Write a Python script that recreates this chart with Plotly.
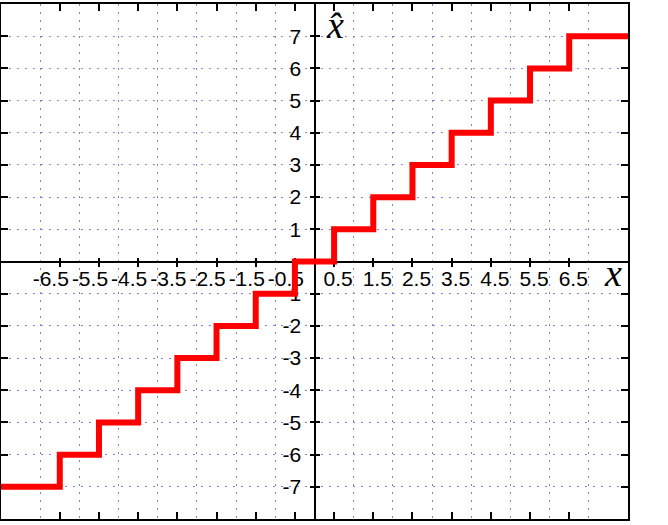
import plotly.graph_objects as go

# Staircase (quantizer) data
step_x = [-8, -6.5, -5.5, -4.5, -3.5, -2.5, -1.5, -0.5, 0.5, 1.5, 2.5, 3.5, 4.5, 5.5, 6.5, 8]
step_y = [-7, -6, -5, -4, -3, -2, -1, 0, 1, 2, 3, 4, 5, 6, 7, 7]

x_tick_vals = [-6.5, -5.5, -4.5, -3.5, -2.5, -1.5, -0.5, 0.5, 1.5, 2.5, 3.5, 4.5, 5.5, 6.5]
x_neg_vals = [-6.5, -5.5, -4.5, -3.5, -2.5, -1.5, -0.5]
x_neg_text = ["-6.5", "-5.5", "-4.5", "-3.5", "-2.5", "-1.5", "-0.5"]
x_pos_vals = [0.5, 1.5, 2.5, 3.5, 4.5, 5.5, 6.5]
x_pos_text = ["0.5", "1.5", "2.5", "3.5", "4.5", "5.5", "6.5"]
y_tick_vals = [-7, -6, -5, -4, -3, -2, -1, 1, 2, 3, 4, 5, 6, 7]
y_tick_text = ["-7", "-6", "-5", "-4", "-3", "-2", "-1", "1", "2", "3", "4", "5", "6", "7"]
grid_vals = list(range(-8, 9))

RANGE = [-8, 8]
GRID = dict(tickvals=grid_vals, showgrid=True, gridcolor="rgb(130,130,220)",
            gridwidth=1, griddash="2px,6px", ticks="")
FONT = dict(family="Liberation Sans, Arial, sans-serif", size=21, color="black")

fig = go.Figure()

fig.add_trace(go.Scatter(x=step_x, y=step_y, mode="lines", line_shape="hv",
                         line=dict(color="#ff0000", width=6),
                         showlegend=False, hoverinfo="skip"))
# dummy traces to create overlay subplots for the central axes
for xa, ya in [("x2", "y2"), ("x3", "y3"), ("x4", "y2"), ("x5", "y3")]:
    fig.add_trace(go.Scatter(x=[None], y=[None], xaxis=xa, yaxis=ya,
                             showlegend=False, hoverinfo="skip"))

frame_common = dict(range=RANGE, showline=True, linecolor="black", linewidth=2,
                    mirror="ticks", ticks="inside", ticklen=7, tickwidth=2,
                    tickcolor="black", showticklabels=False, showgrid=False,
                    zeroline=False, layer="below traces", fixedrange=True)

center_common = dict(range=RANGE, anchor="free", position=0.5,
                     linecolor="black", linewidth=2, ticklen=4, tickwidth=2,
                     tickcolor="black", showgrid=False, zeroline=False,
                     layer="below traces", fixedrange=True, tickfont=FONT)

fig.update_layout(
    width=668, height=525,
    margin=dict(l=1, r=40, t=4, b=6, autoexpand=False),
    paper_bgcolor="white", plot_bgcolor="white",
    xaxis=dict(**frame_common, tickvals=x_tick_vals, minor=GRID, anchor="y"),
    yaxis=dict(**frame_common, tickvals=y_tick_vals, minor=GRID, anchor="x"),
    xaxis2=dict(**center_common, overlaying="x", side="bottom", ticks="outside",
                showline=True, tickvals=x_tick_vals, showticklabels=False),
    xaxis3=dict(**center_common, overlaying="x", side="bottom", ticks="inside",
                showline=False, tickvals=x_tick_vals, showticklabels=False),
    xaxis4=dict(**center_common, overlaying="x", side="bottom", ticks="",
                showline=False, tickvals=x_neg_vals, ticktext=x_neg_text,
                showticklabels=True, ticklabelshift=-9, ticklabelstandoff=2),
    xaxis5=dict(**center_common, overlaying="x", side="bottom", ticks="",
                showline=False, tickvals=x_pos_vals, ticktext=x_pos_text,
                showticklabels=True, ticklabelshift=4, ticklabelstandoff=2),
    yaxis2=dict(**center_common, overlaying="y", side="left", ticks="outside",
                showline=True, tickvals=y_tick_vals, ticktext=y_tick_text,
                showticklabels=True, ticklabelstandoff=4),
    yaxis3=dict(**center_common, overlaying="y", side="left", ticks="inside",
                showline=False, tickvals=y_tick_vals, showticklabels=False),
    annotations=[
        dict(text="<i>x̂</i>", xref="x", yref="paper", x=0, y=1.0,
             xanchor="left", yanchor="top", xshift=9, yshift=2, showarrow=False,
             font=dict(family="Liberation Serif, serif", size=38, color="black")),
        dict(text="<i>x</i>", xref="x", yref="y", x=8, y=0,
             xanchor="right", yanchor="top", xshift=-4, yshift=12, showarrow=False,
             font=dict(family="Liberation Serif, serif", size=38, color="black")),
    ],
)

fig.write_html("out.html", config={"displayModeBar": False},
               post_script="document.body.style.margin='0px';")
